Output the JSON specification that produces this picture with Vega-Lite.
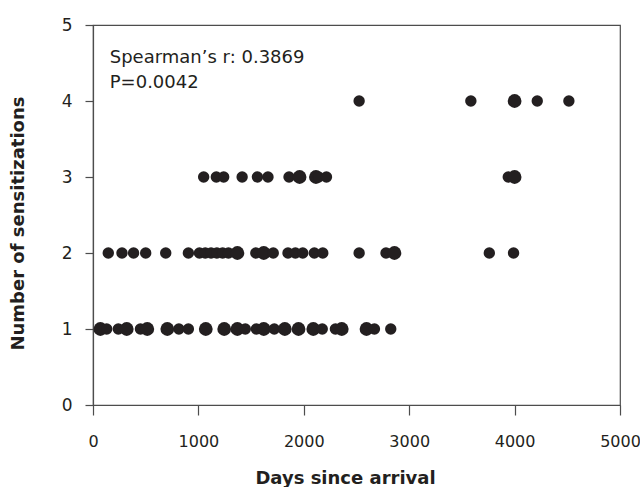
{
  "$schema": "https://vega.github.io/schema/vega-lite/v6.json",
  "width": 527,
  "height": 380,
  "autosize": "none",
  "padding": {"left": 93, "top": 25, "right": 20, "bottom": 82},
  "background": "white",
  "config": {
    "view": {"stroke": "#4d4d4d", "strokeWidth": 1.2},
    "font": "DejaVu Sans"
  },
  "datasets": {
    "pts": [
      {"days": 70, "sens": 1, "n": 2}, {"days": 130, "sens": 1, "n": 1}, {"days": 240, "sens": 1, "n": 1},
      {"days": 320, "sens": 1, "n": 2}, {"days": 450, "sens": 1, "n": 1}, {"days": 515, "sens": 1, "n": 2},
      {"days": 705, "sens": 1, "n": 2}, {"days": 815, "sens": 1, "n": 1}, {"days": 905, "sens": 1, "n": 1},
      {"days": 1070, "sens": 1, "n": 2}, {"days": 1245, "sens": 1, "n": 2}, {"days": 1370, "sens": 1, "n": 2},
      {"days": 1445, "sens": 1, "n": 1}, {"days": 1550, "sens": 1, "n": 1}, {"days": 1620, "sens": 1, "n": 2},
      {"days": 1720, "sens": 1, "n": 1}, {"days": 1820, "sens": 1, "n": 2}, {"days": 1950, "sens": 1, "n": 2},
      {"days": 2090, "sens": 1, "n": 2}, {"days": 2175, "sens": 1, "n": 1}, {"days": 2300, "sens": 1, "n": 1},
      {"days": 2360, "sens": 1, "n": 2}, {"days": 2595, "sens": 1, "n": 2}, {"days": 2670, "sens": 1, "n": 1},
      {"days": 2825, "sens": 1, "n": 1},
      {"days": 145, "sens": 2, "n": 1}, {"days": 275, "sens": 2, "n": 1}, {"days": 385, "sens": 2, "n": 1},
      {"days": 500, "sens": 2, "n": 1}, {"days": 690, "sens": 2, "n": 1}, {"days": 905, "sens": 2, "n": 1},
      {"days": 1010, "sens": 2, "n": 1}, {"days": 1065, "sens": 2, "n": 1}, {"days": 1120, "sens": 2, "n": 1},
      {"days": 1175, "sens": 2, "n": 1}, {"days": 1230, "sens": 2, "n": 1}, {"days": 1285, "sens": 2, "n": 1},
      {"days": 1370, "sens": 2, "n": 2}, {"days": 1545, "sens": 2, "n": 1}, {"days": 1620, "sens": 2, "n": 2},
      {"days": 1710, "sens": 2, "n": 1}, {"days": 1850, "sens": 2, "n": 1}, {"days": 1920, "sens": 2, "n": 1},
      {"days": 1990, "sens": 2, "n": 1}, {"days": 2100, "sens": 2, "n": 1}, {"days": 2180, "sens": 2, "n": 1},
      {"days": 2525, "sens": 2, "n": 1}, {"days": 2780, "sens": 2, "n": 1}, {"days": 2860, "sens": 2, "n": 2},
      {"days": 3760, "sens": 2, "n": 1}, {"days": 3990, "sens": 2, "n": 1},
      {"days": 1050, "sens": 3, "n": 1}, {"days": 1170, "sens": 3, "n": 1}, {"days": 1240, "sens": 3, "n": 1},
      {"days": 1415, "sens": 3, "n": 1}, {"days": 1560, "sens": 3, "n": 1}, {"days": 1660, "sens": 3, "n": 1},
      {"days": 1860, "sens": 3, "n": 1}, {"days": 1960, "sens": 3, "n": 2}, {"days": 2115, "sens": 3, "n": 2},
      {"days": 2140, "sens": 3, "n": 1}, {"days": 2215, "sens": 3, "n": 1}, {"days": 3940, "sens": 3, "n": 1},
      {"days": 4000, "sens": 3, "n": 2},
      {"days": 2525, "sens": 4, "n": 1}, {"days": 3585, "sens": 4, "n": 1}, {"days": 4000, "sens": 4, "n": 2},
      {"days": 4215, "sens": 4, "n": 1}, {"days": 4515, "sens": 4, "n": 1}
    ]
  },
  "layer": [
    {
      "data": {"name": "pts"},
      "mark": {"type": "circle", "color": "#231f20", "opacity": 1},
      "encoding": {
        "x": {
          "field": "days", "type": "quantitative",
          "scale": {"domain": [0, 5000], "nice": false, "zero": false},
          "axis": {
            "title": "Days since arrival",
            "values": [0, 1000, 2000, 3000, 4000, 5000],
            "format": "d",
            "grid": false,
            "domainColor": "#4d4d4d", "domainWidth": 1.2,
            "tickColor": "#4d4d4d", "tickWidth": 1.2, "tickSize": 10,
            "labelFontSize": 16, "labelColor": "#231f20", "labelPadding": 18,
            "labelFlush": false,
            "titleFontSize": 18, "titleFontWeight": "bold", "titleColor": "#231f20",
            "titleX": 252, "titleY": 73, "titleBaseline": "middle"
          }
        },
        "y": {
          "field": "sens", "type": "quantitative",
          "scale": {"domain": [0, 5], "nice": false},
          "axis": {
            "title": "Number of sensitizations",
            "values": [0, 1, 2, 3, 4, 5],
            "format": "d",
            "grid": false,
            "domainColor": "#4d4d4d", "domainWidth": 1.2,
            "tickColor": "#4d4d4d", "tickWidth": 1.2, "tickSize": 8,
            "labelFontSize": 17, "labelColor": "#231f20", "labelPadding": 13,
            "labelFlush": false,
            "titleFontSize": 18, "titleFontWeight": "bold", "titleColor": "#231f20",
            "titleX": -75, "titleY": 198, "titleBaseline": "middle"
          }
        },
        "size": {
          "field": "n", "type": "quantitative",
          "scale": {"domain": [1, 2], "range": [130, 190]},
          "legend": null
        }
      }
    },
    {
      "data": {"values": [{"label": "Spearman’s r: 0.3869"}]},
      "mark": {"type": "text", "align": "left", "baseline": "alphabetic", "fontSize": 18, "color": "#231f20"},
      "encoding": {
        "x": {"datum": 159, "type": "quantitative"},
        "y": {"datum": 4.496, "type": "quantitative"},
        "text": {"field": "label"}
      }
    },
    {
      "data": {"values": [{"label": "P=0.0042"}]},
      "mark": {"type": "text", "align": "left", "baseline": "alphabetic", "fontSize": 18, "color": "#231f20"},
      "encoding": {
        "x": {"datum": 159, "type": "quantitative"},
        "y": {"datum": 4.167, "type": "quantitative"},
        "text": {"field": "label"}
      }
    }
  ]
}
